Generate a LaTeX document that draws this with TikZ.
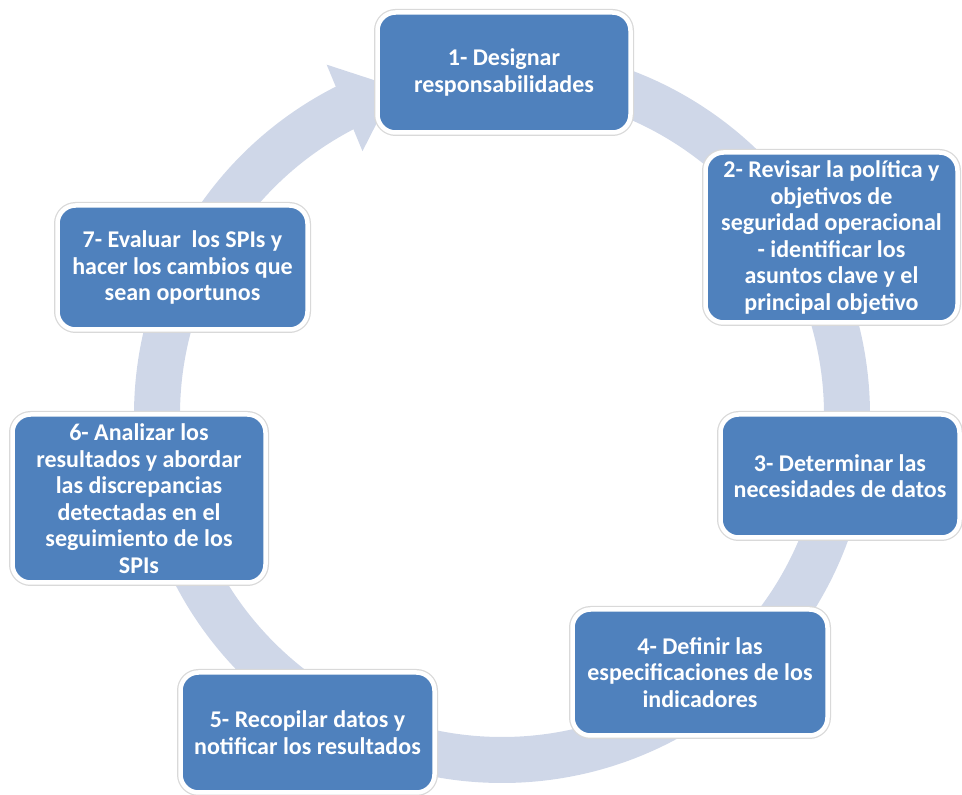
\documentclass[tikz,border=0pt]{standalone}
\usepackage{fontspec}
\setmainfont{Carlito}
\usepackage{xcolor}
\usetikzlibrary{arrows.meta, bending}

\definecolor{stepblue}{RGB}{79,129,189}
\definecolor{ringgray}{RGB}{207,215,232}

\begin{document}
\begin{tikzpicture}[x=1pt, y=1pt,
    stepbox/.style={draw=white, line width=4.5pt, rounded corners=18pt, fill=stepblue,
        text=white, font=\fontsize{24}{26.5}\selectfont\bfseries, align=center,
        inner sep=2pt, preaction={draw=black!15, line width=7pt}},
    ring/.style={draw=ringgray, line width=46pt,
        -{Triangle[width=90pt, length=55pt, flex]}}
]
\useasboundingbox (0,0) rectangle (962,795);

% Cycle
\coordinate (c) at (502,380);
\draw[ring] ([shift={(90:345pt)}]c) arc[start angle=90, end angle=-252, radius=345pt];

% Steps
\node[stepbox, minimum width=253pt, minimum height=120pt] (s1) at (504,722.5)
    {1- Designar\\responsabilidades};
\node[stepbox, minimum width=252pt, minimum height=170pt] (s2) at (831.5,557.5)
    {2- Revisar la política y\\objetivos de\\seguridad operacional\\- identificar los\\asuntos clave y el\\principal objetivo};
\node[stepbox, minimum width=239pt, minimum height=123pt] (s3) at (840,319)
    {3- Determinar las\\necesidades de datos};
\node[stepbox, minimum width=255pt, minimum height=126pt] (s4) at (700,122.5)
    {4- Definir las\\especificaciones de los\\indicadores};
\node[stepbox, minimum width=254pt, minimum height=120pt] (s5) at (307.5,62.5)
    {5- Recopilar datos y\\notificar los resultados};
\node[stepbox, minimum width=253pt, minimum height=168pt] (s6) at (139,296.5)
    {6- Analizar los\\resultados y abordar\\las discrepancias\\detectadas en el\\seguimiento de los\\SPIs};
\node[stepbox, minimum width=250pt, minimum height=124pt] (s7) at (182.5,527.5)
    {7- Evaluar~ los SPIs y\\hacer los cambios que\\sean oportunos};

\end{tikzpicture}
\end{document}
